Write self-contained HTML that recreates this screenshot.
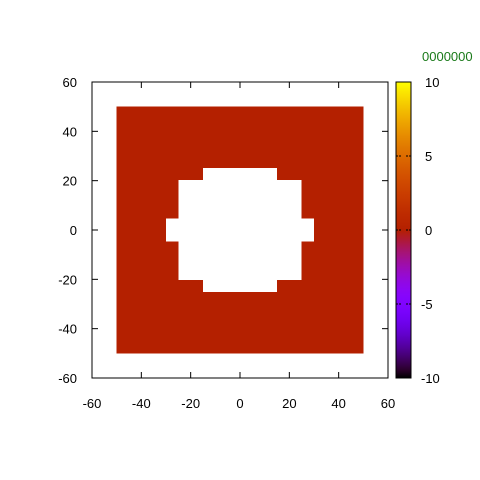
<!DOCTYPE html>
<html><head><meta charset="utf-8"><style>body{margin:0;background:#fff}svg{display:block;font-family:"Liberation Sans",sans-serif;font-size:13px}</style></head>
<body>
<svg id="c" width="480" height="480" xmlns="http://www.w3.org/2000/svg">
<defs><linearGradient id="g" x1="0" y1="1" x2="0" y2="0"></linearGradient></defs>
<text x="422" y="61" fill="#1a7a1a">0000000</text>
</svg>
<script>
const xTicks=[-60,-40,-20,0,20,40,60];
const yTicks=[-60,-40,-20,0,20,40,60];
const cbTicks=[-10,-5,0,5,10];
const square=[-50,50,-50,50];
const holeRows=[[20,25,-15,15],[4.5,20,-25,25],[-4.5,4.5,-30,30],[-20,-4.5,-25,25],[-25,-20,-15,15]];
const cellValue=[0];
const svg=document.getElementById('c');const NS='http://www.w3.org/2000/svg';
const X0=92,X1=388,Y0=378,Y1=82;
const sx=v=>X0+(v+60)/120*(X1-X0), sy=v=>Y0-(v+60)/120*(Y0-Y1);
function el(t,a,p){const e=document.createElementNS(NS,t);for(const k in a)e.setAttribute(k,a[k]);(p||svg).appendChild(e);return e;}
function pal(f){const r=Math.sqrt(f),g=f*f*f,b=Math.max(0,Math.sin(2*Math.PI*f));return `rgb(${Math.round(r*255)},${Math.round(g*255)},${Math.round(b*255)})`;}
const cbMin=-10,cbMax=10;
const sq=el('rect',{x:sx(square[0]),y:sy(square[3]),width:sx(square[1])-sx(square[0]),height:sy(square[2])-sy(square[3]),fill:pal((cellValue[0]-cbMin)/(cbMax-cbMin)),'shape-rendering':'crispEdges'});


holeRows.forEach((h,i)=>{const r=el('rect',{x:sx(h[2]),y:sy(h[1])-0.5,width:sx(h[3])-sx(h[2]),height:sy(h[0])-sy(h[1])+1,fill:'#fff','shape-rendering':'crispEdges'});

});
const fr=el('rect',{x:X0,y:Y1,width:X1-X0,height:Y0-Y1,fill:'none',stroke:'#000','stroke-width':1});


xTicks.forEach(v=>{const x=sx(v);el('line',{x1:x,x2:x,y1:Y0,y2:Y0-6,stroke:'#000'});el('line',{x1:x,x2:x,y1:Y1,y2:Y1+6,stroke:'#000'});
const t=el('text',{x:x,y:Y0+30,'text-anchor':'middle'});t.textContent=v;

});
yTicks.forEach(v=>{const y=sy(v);el('line',{x1:X0,x2:X0+6,y1:y,y2:y,stroke:'#000'});el('line',{x1:X1,x2:X1-6,y1:y,y2:y,stroke:'#000'});
const t=el('text',{x:X0-15,y:y+5,'text-anchor':'end'});t.textContent=v;

});
const gr=svg.querySelector('#g');for(let i=0;i<=40;i++){el('stop',{offset:i/40,'stop-color':pal(i/40)},gr);}
const CX=396,CW=15;const cy=v=>Y0-(v-cbMin)/(cbMax-cbMin)*(Y0-Y1);
const cb=el('rect',{x:CX,y:Y1,width:CW,height:Y0-Y1,fill:'url(#g)',stroke:'#000'});


cbTicks.forEach(v=>{const y=cy(v);if(v>cbMin&&v<cbMax){el('line',{x1:CX,x2:CX+5,y1:y,y2:y,stroke:'#000','stroke-dasharray':'2,1'});el('line',{x1:CX+CW,x2:CX+CW-5,y1:y,y2:y,stroke:'#000','stroke-dasharray':'2,1'});}
const t=el('text',{x:v<0?421:425,y:y+5});t.textContent=v;

});
</script>
</body></html>
